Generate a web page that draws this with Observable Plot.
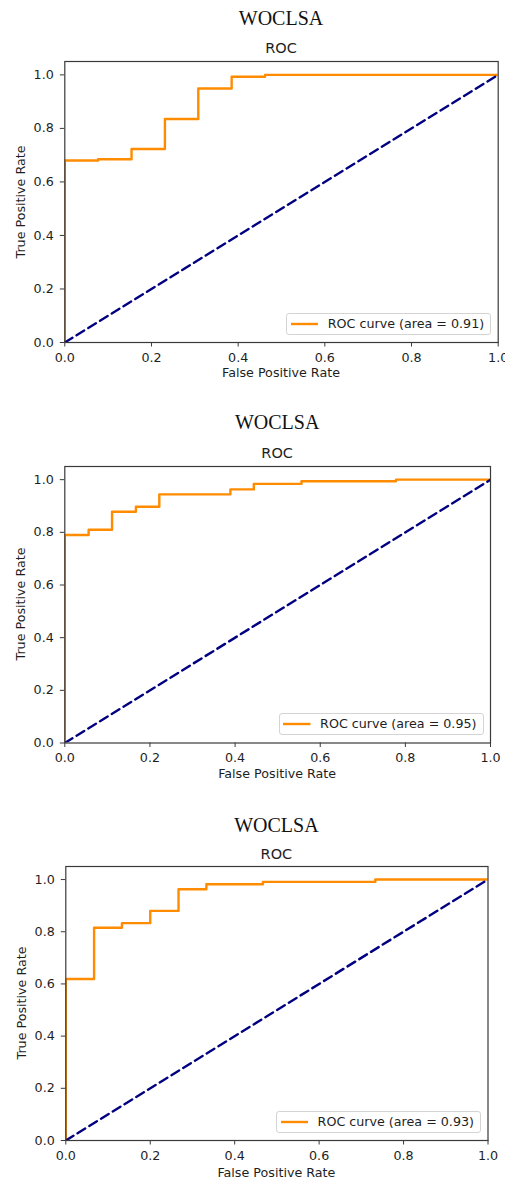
<!DOCTYPE html>
<html>
<head>
<meta charset="utf-8">
<script src="https://cdn.jsdelivr.net/npm/d3@7"></script>
<script src="https://cdn.jsdelivr.net/npm/@observablehq/plot@0.6"></script>
<style>
  html, body { margin: 0; padding: 0; background: #fff; }
  #root { position: relative; width: 505px; height: 1179px; overflow: hidden; background: #fff; }
  .t { position: absolute; transform: translate(-50%, -50%); white-space: nowrap; line-height: 1; }
  .sup { font-family: "Liberation Serif", "Times New Roman", serif; font-size: 20px; color: #111; }
  .axt { font-family: "DejaVu Sans", sans-serif; font-size: 14.5px; color: #1e1e1e; }
  .lab { font-family: "DejaVu Sans", sans-serif; font-size: 12.7px; color: #1e1e1e; }
  .ylab { transform: translate(-50%, -50%) rotate(-90deg); }
  .leg { position: absolute; box-sizing: border-box; height: 22.5px; display: flex; align-items: center;
         padding: 0 6px 0 3.5px; border: 1px solid #d4d4d4; border-radius: 3px; background: rgba(255,255,255,0.85);
         font-family: "DejaVu Sans", sans-serif; font-size: 12.7px; color: #1e1e1e; white-space: nowrap; }
  .leg svg { margin-right: 9.5px; display: block; }
</style>
</head>
<body>
<div id="root"></div>
<script>
// ---- data ----
const supTitles = ["WOCLSA", "WOCLSA", "WOCLSA"];
const axTitles = ["ROC", "ROC", "ROC"];
const xLabel = "False Positive Rate";
const yLabel = "True Positive Rate";
const tickValues = [0.0, 0.2, 0.4, 0.6, 0.8, 1.0];
const legendLabel = "ROC curve";
const aucValues = [0.91, 0.95, 0.93];

const fpr1 = [0, 0, 0.077, 0.154, 0.231, 0.308, 0.385, 0.462, 1.0];
const tpr1 = [0, 0.680, 0.685, 0.723, 0.835, 0.949, 0.993, 1.0, 1.0];

const fpr2 = [0, 0, 0.056, 0.111, 0.167, 0.222, 0.389, 0.444, 0.556, 0.778, 1.0];
const tpr2 = [0, 0.790, 0.810, 0.878, 0.897, 0.944, 0.963, 0.984, 0.994, 1.0, 1.0];

const fpr3 = [0, 0, 0.067, 0.133, 0.200, 0.267, 0.333, 0.467, 0.733, 1.0];
const tpr3 = [0, 0.619, 0.815, 0.833, 0.880, 0.963, 0.982, 0.991, 1.0, 1.0];

const chanceX = [0, 1];
const chanceY = [0, 1];

const fprs = [fpr1, fpr2, fpr3];
const tprs = [tpr1, tpr2, tpr3];

// ---- layout (pixel positions of each panel) ----
const panels = [
  { left: 64.3, right: 497.7, top: 61, bottom: 342, supY: 18, titleY: 48, xlabY: 373, ylabX: 21 },
  { left: 64.3, right: 490.0, top: 465.5, bottom: 742, supY: 422, titleY: 453, xlabY: 774, ylabX: 21 },
  { left: 65.3, right: 487.5, top: 866, bottom: 1140, supY: 825, titleY: 854, xlabY: 1173, ylabX: 22 }
];

const root = document.getElementById("root");
function addText(cls, txt, x, y) {
  const d = document.createElement("div");
  d.className = "t " + cls;
  d.textContent = txt;
  d.style.left = x + "px";
  d.style.top = y + "px";
  root.appendChild(d);
  return d;
}

const mt = 20, mb = 45;
panels.forEach((g, i) => {
  const roc = fprs[i].map((x, k) => ({ x, y: tprs[i][k] }));
  const chance = chanceX.map((x, k) => ({ x, y: chanceY[k] }));
  const chart = Plot.plot({
    width: 505,
    height: (g.bottom - g.top) + mt + mb,
    marginLeft: g.left,
    marginRight: 505 - g.right,
    marginTop: mt,
    marginBottom: mb,
    x: { domain: [0, 1] },
    y: { domain: [0, 1.05] },
    style: { fontFamily: "DejaVu Sans, sans-serif", fontSize: "12.7px", color: "#1e1e1e", background: "transparent", overflow: "visible" },
    marks: [
      Plot.line(roc, { x: "x", y: "y", curve: "step-after", stroke: "#ff8c00", strokeWidth: 2.4, clip: true }),
      Plot.line(chance, { x: "x", y: "y", stroke: "#000080", strokeWidth: 2.4, strokeDasharray: "9,4.8", clip: true }),
      Plot.frame({ stroke: "#3a3a3a", strokeWidth: 1.2 }),
      Plot.axisX({ ticks: tickValues, tickFormat: d3.format(".1f"), tickSize: 4.5, tickPadding: 5.5, label: null, stroke: "#3a3a3a" }),
      Plot.axisY({ ticks: tickValues, tickFormat: d3.format(".1f"), tickSize: 4.5, tickPadding: 6.5, label: null, stroke: "#3a3a3a" })
    ]
  });
  chart.style.position = "absolute";
  chart.style.left = "0px";
  chart.style.top = (g.top - mt) + "px";
  root.appendChild(chart);

  const cx = (g.left + g.right) / 2;
  addText("sup", supTitles[i], cx, g.supY);
  addText("axt", axTitles[i], cx, g.titleY);
  addText("lab", xLabel, cx, g.xlabY);
  addText("lab ylab", yLabel, g.ylabX, (g.top + g.bottom) / 2);

  // legend
  const leg = document.createElement("div");
  leg.className = "leg";
  leg.style.right = (505 - (g.right - 6.5)) + "px";
  leg.style.top = (g.bottom - 7 - 22.5) + "px";
  const ns = "http://www.w3.org/2000/svg";
  const s = document.createElementNS(ns, "svg");
  s.setAttribute("width", "27.5");
  s.setAttribute("height", "10");
  const ln = document.createElementNS(ns, "line");
  ln.setAttribute("x1", "0"); ln.setAttribute("x2", "27.5");
  ln.setAttribute("y1", "5"); ln.setAttribute("y2", "5");
  ln.setAttribute("stroke", "#ff8c00"); ln.setAttribute("stroke-width", "2.4");
  s.appendChild(ln);
  leg.appendChild(s);
  const sp = document.createElement("span");
  sp.textContent = `${legendLabel} (area = ${aucValues[i].toFixed(2)})`;
  leg.appendChild(sp);
  root.appendChild(leg);
});
</script>
</body>
</html>
